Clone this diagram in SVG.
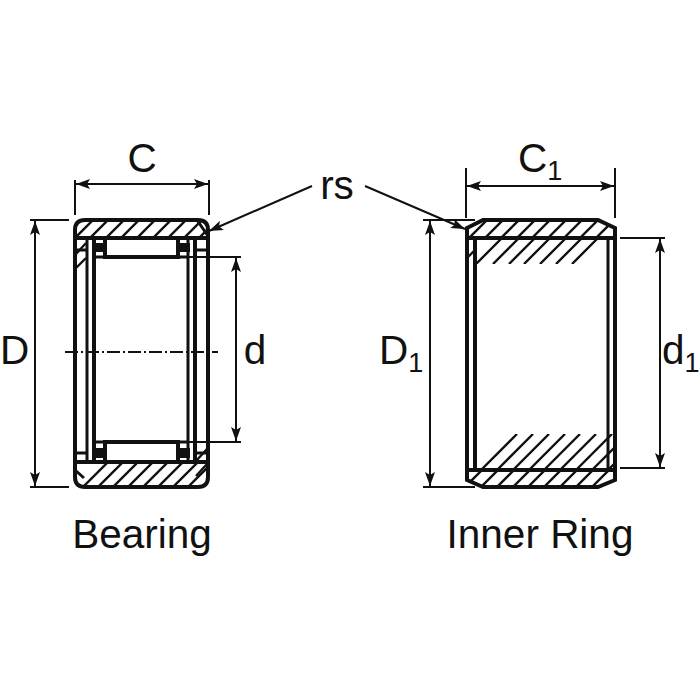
<svg xmlns="http://www.w3.org/2000/svg" width="700" height="700" viewBox="0 0 700 700">
<style>
text{font-family:"Liberation Sans",Arial,sans-serif;font-size:40.5px;fill:#111}
.sub{font-size:27px}
.k{fill:none;stroke:#111;stroke-width:4}
.t{fill:none;stroke:#111;stroke-width:3}
.h{fill:none;stroke:#111;stroke-width:2.4}
.d{fill:none;stroke:#111;stroke-width:2}
</style>
<defs>
<marker id="a" viewBox="0 0 14 10" refX="14" refY="5" markerWidth="14" markerHeight="10" markerUnits="userSpaceOnUse" orient="auto-start-reverse"><path d="M0 0L14 5L0 10L3 5Z" fill="#111"/></marker>
<clipPath id="bt"><path d="M85 220H198Q208 220 208 230V238H75V230Q75 220 85 220Z"/></clipPath>
<clipPath id="bb"><path d="M75 462H208V477Q208 487 198 487H85Q75 487 75 477Z"/></clipPath>
<clipPath id="rt"><path d="M467 228L483 220H598L615 228V238H467Z"/></clipPath>
<clipPath id="rb"><path d="M467 470H615V480L598 487H483L467 480Z"/></clipPath>
<clipPath id="rth"><path d="M467 238H615V264H467Z"/></clipPath>
<clipPath id="rbh"><path d="M467 434H615V470H467Z"/></clipPath>
</defs>
<g id="connectors">
<path class="d" d="M75 180V215M209 180V215M466 168V218M615 168V218"/>
<path class="d" marker-start="url(#a)" marker-end="url(#a)" d="M76 184H208"/>
<path class="d" marker-start="url(#a)" marker-end="url(#a)" d="M467 186H614"/>
<path class="d" d="M30 220H69M30 487H69"/>
<path class="d" marker-start="url(#a)" marker-end="url(#a)" d="M35 221V486"/>
<path class="d" d="M183 257H241M183 442H241"/>
<path class="d" marker-start="url(#a)" marker-end="url(#a)" d="M236 258V441"/>
<path class="d" d="M423 220H475M423 487H475"/>
<path class="d" marker-start="url(#a)" marker-end="url(#a)" d="M430 221V486"/>
<path class="d" d="M620 238H665M620 468H665"/>
<path class="d" marker-start="url(#a)" marker-end="url(#a)" d="M660 239V467"/>
<path class="d" marker-end="url(#a)" d="M312 186L209 231"/>
<path class="d" marker-end="url(#a)" d="M365 186L465 229"/>
<path class="d" stroke-dasharray="13 3 2 3" d="M65 352H218"/>
</g>
<g id="bearing">
<g clip-path="url(#bt)"><path class="h" d="M63 250L95 218M78 250L110 218M94 250L126 218M109 250L141 218M125 250L157 218M141 250L173 218M156 250L188 218M172 250L204 218M187 250L219 218"/></g>
<g clip-path="url(#bb)"><path class="h" d="M75 495L112 458M90 495L127 458M105 495L142 458M120 495L157 458M135 495L172 458M150 495L187 458M165 495L202 458M180 495L217 458M195 495L232 458"/></g>
<path class="h" d="M76 254L86 243M76 268L86 258M196 476L207 464M196 461L207 449"/>
<path class="k" d="M85 220H198Q208 220 208 230V477Q208 487 198 487H85Q75 487 75 477V230Q75 220 85 220Z"/>
<path class="k" d="M75 238H208M75 462H208"/>
<path class="k" d="M94 238V462M195 238V462"/>
<path class="t" d="M87 238V462M188 238V462M75 250H87M75 453H87M195 250H208M195 453H208"/>
<path class="k" d="M105 257H178V238H105ZM105 442H178V462H105Z"/>
<path fill="#111" d="M96 243H105V252H96ZM178 243H190V252H178ZM96 448H105V458H96ZM178 448H190V458H178Z"/>
<path class="t" d="M94 257H105M178 257H188M94 442H105M178 442H188"/>
<path class="t" d="M197 220L208 236M75 470L84 478"/>
</g>
<g id="inner-ring">
<g clip-path="url(#rt)"><path class="h" d="M462 245L490 217M478 245L506 217M494 245L522 217M510 245L538 217M525 245L553 217M541 245L569 217M557 245L585 217M573 245L601 217M589 245L617 217"/></g>
<g clip-path="url(#rb)"><path class="h" d="M462 490L490 462M478 490L506 462M494 490L522 462M510 490L538 462M525 490L553 462M541 490L569 462M557 490L585 462M573 490L601 462M589 490L617 462"/></g>
<g clip-path="url(#rth)"><path class="h" d="M467 258L475 250M493 264L519 238M509 264L535 238M524 264L550 238M540 264L566 238M556 264L582 238M572 264L598 238M476 264L502 238"/></g>
<g clip-path="url(#rbh)"><path class="h" d="M481 470L517 434M497 470L533 434M513 470L549 434M529 470L565 434M544 470L580 434M560 470L596 434M576 470L612 434M592 470L615 447M608 470L615 463"/></g>
<path class="k" d="M467 228L483 220H598L615 228V480L598 487H483L467 480Z"/>
<path class="k" d="M467 238H615M467 470H615"/>
<path class="k" d="M475 238V470"/>
<path class="t" d="M608 238V470"/>
</g>
<g id="labels">
<text x="142" y="172" text-anchor="middle">C</text>
<text x="518" y="172">C<tspan class="sub" dy="8">1</tspan></text>
<text x="337" y="199" text-anchor="middle">rs</text>
<text x="0" y="364">D</text>
<text x="255" y="364" text-anchor="middle">d</text>
<text x="379" y="364">D<tspan class="sub" dy="8">1</tspan></text>
<text x="662" y="364">d<tspan class="sub" dy="8">1</tspan></text>
<text x="142" y="548" text-anchor="middle">Bearing</text>
<text x="540" y="548" text-anchor="middle">Inner Ring</text>
</g>
</svg>
